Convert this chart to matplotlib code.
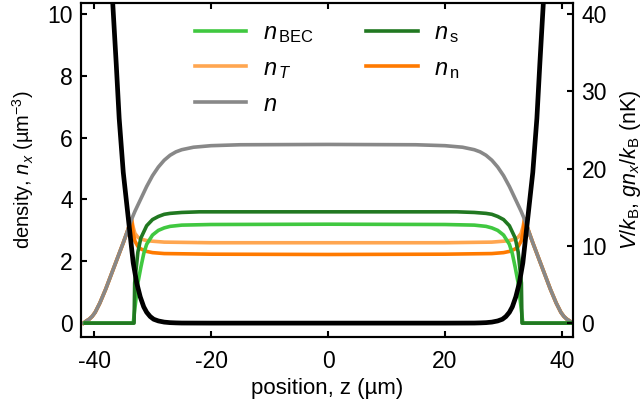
import matplotlib
matplotlib.use("Agg")
import matplotlib.pyplot as plt

plt.rcParams['font.family'] = ['Liberation Sans', 'DejaVu Sans']
plt.rcParams['mathtext.fontset'] = 'custom'
plt.rcParams['mathtext.rm'] = 'Liberation Sans'
plt.rcParams['mathtext.it'] = 'Liberation Sans:italic'
plt.rcParams['mathtext.bf'] = 'Liberation Sans:bold'
plt.rcParams['axes.unicode_minus'] = False

# ---- data ----
# total density n (um^-3)
z_n = [-41.8, -41.3, -40.8, -40.3, -39.8, -39.0, -38.0, -37.0, -36.0, -35.0, -34.3, -33.6,
       -33.0, -32.0, -31.0, -30.0, -29.0, -28.0, -27.0, -26.0, -25.0, -23.0, -20.0, -15.0,
       0.0, 15.0, 20.0, 23.0, 25.0, 26.0, 27.0, 28.0, 29.0, 30.0, 31.0, 32.0, 33.0,
       33.6, 34.3, 35.0, 36.0, 37.0, 38.0, 39.0, 39.8, 40.3, 40.8, 41.3, 41.8]
n_tot = [0.0, 0.07, 0.13, 0.22, 0.35, 0.65, 1.1, 1.6, 2.1, 2.6, 2.97, 3.35,
         3.62, 4.02, 4.42, 4.77, 5.05, 5.27, 5.43, 5.54, 5.61, 5.69, 5.74, 5.77,
         5.78, 5.77, 5.74, 5.69, 5.61, 5.54, 5.43, 5.27, 5.05, 4.77, 4.42, 4.02, 3.62,
         3.35, 2.97, 2.6, 2.1, 1.6, 1.1, 0.65, 0.35, 0.22, 0.13, 0.07, 0.0]

# condensate density n_BEC
z_bec = [-41.5, -33.3, -33.0, -32.5, -32.0, -31.5, -31.0, -30.0, -29.0, -28.0, -27.0, -25.0,
         -20.0, 0.0, 20.0, 25.0, 27.0, 28.0, 29.0, 30.0, 31.0, 31.5, 32.0, 32.5, 33.0, 33.3, 41.5]
n_bec = [0.0, 0.0, 0.5, 1.3, 1.8, 2.25, 2.55, 2.85, 3.0, 3.08, 3.13, 3.17,
         3.19, 3.2, 3.19, 3.17, 3.13, 3.08, 3.0, 2.85, 2.55, 2.25, 1.8, 1.3, 0.5, 0.0, 0.0]

# superfluid density n_s
z_s = [-41.5, -33.15, -33.05, -32.5, -32.0, -31.0, -30.0, -29.0, -28.0, -27.0, -25.0, -22.0,
       0.0, 22.0, 25.0, 27.0, 28.0, 29.0, 30.0, 31.0, 32.0, 32.5, 33.05, 33.15, 41.5]
n_s = [0.0, 0.0, 1.3, 2.3, 2.75, 3.15, 3.35, 3.45, 3.52, 3.55, 3.58, 3.6,
       3.6, 3.6, 3.58, 3.55, 3.52, 3.45, 3.35, 3.15, 2.75, 2.3, 1.3, 0.0, 0.0]

# thermal density n_T and normal density n_n
z_T = [-41.8, -41.3, -40.8, -40.3, -39.8, -39.0, -38.0, -37.0, -36.0, -35.0, -34.3, -33.6,
       -33.3, -33.0, -32.5, -32.0, -31.0, -30.0, -28.0, -20.0, 0.0, 20.0, 28.0, 30.0,
       31.0, 32.0, 32.5, 33.0, 33.3, 33.6, 34.3, 35.0, 36.0, 37.0, 38.0, 39.0, 39.8,
       40.3, 40.8, 41.3, 41.8]
n_T = [0.0, 0.07, 0.13, 0.22, 0.35, 0.65, 1.1, 1.6, 2.1, 2.6, 2.97, 3.38,
       3.1, 2.9, 2.78, 2.72, 2.67, 2.65, 2.62, 2.6, 2.6, 2.6, 2.62, 2.65,
       2.67, 2.72, 2.78, 2.9, 3.1, 3.38, 2.97, 2.6, 2.1, 1.6, 1.1, 0.65, 0.35,
       0.22, 0.13, 0.07, 0.0]
n_n = [0.0, 0.07, 0.13, 0.22, 0.35, 0.65, 1.1, 1.6, 2.1, 2.6, 2.97, 3.38,
       2.9, 2.65, 2.48, 2.4, 2.32, 2.28, 2.25, 2.23, 2.22, 2.23, 2.25, 2.28,
       2.32, 2.4, 2.48, 2.65, 2.9, 3.38, 2.97, 2.6, 2.1, 1.6, 1.1, 0.65, 0.35,
       0.22, 0.13, 0.07, 0.0]

# trap potential V/k_B (nK)
z_V = [-38.0, -37.5, -36.8, -36.2, -35.7, -35.0, -34.1, -33.3, -32.7, -32.1, -31.5, -31.0,
       -30.4, -29.8, -29.0, -28.0, -27.0, -26.0, -25.0, -20.0, 0.0, 20.0, 25.0, 26.0, 27.0,
       28.0, 29.0, 29.8, 30.4, 31.0, 31.5, 32.1, 32.7, 33.3, 34.1, 35.0, 35.7, 36.2, 36.8,
       37.5, 38.0]
V = [80.0, 58.0, 41.4, 33.5, 26.5, 19.5, 13.3, 7.8, 5.2, 3.4, 2.1, 1.4,
     0.85, 0.5, 0.28, 0.13, 0.06, 0.03, 0.01, 0.0, 0.0, 0.0, 0.01, 0.03, 0.06,
     0.13, 0.28, 0.5, 0.85, 1.4, 2.1, 3.4, 5.2, 7.8, 13.3, 19.5, 26.5, 33.5, 41.4,
     58.0, 80.0]

xticks = [-40, -20, 0, 20, 40]
yticks_left = [0, 2, 4, 6, 8, 10]
yticks_right = [0, 10, 20, 30, 40]

c_bec = '#40c840'
c_s = '#217821'
c_T = '#ffa650'
c_n = '#ff7a00'
c_tot = '#888888'

fig = plt.figure(figsize=(6.44, 4.11), dpi=100)
ax = fig.add_axes([0.126, 0.180, 0.764, 0.813])
ax2 = ax.twinx()

lw = 2.6
lT, = ax.plot(z_T, n_T, color=c_T, lw=lw, label=r'$n_{\,T}$')
lN, = ax.plot(z_T, n_n, color=c_n, lw=lw, label=r'$n_{\,\mathrm{n}}$')
lTot, = ax.plot(z_n, n_tot, color=c_tot, lw=lw, label=r'$n$')
lB, = ax.plot(z_bec, n_bec, color=c_bec, lw=lw, label=r'$n_{\,\mathrm{BEC}}$')
lS, = ax.plot(z_s, n_s, color=c_s, lw=lw, label=r'$n_{\,\mathrm{s}}$')
ax2.plot(z_V, V, color='black', lw=3.4, solid_joinstyle='round')

ax.set_xlim(-42.2, 41.9)
ax.set_ylim(-0.45, 10.36)
ax2.set_ylim(-1.8, 41.44)
ax.set_xticks(xticks)
ax.set_yticks(yticks_left)
ax2.set_yticks(yticks_right)

for a in (ax, ax2):
    for s in a.spines.values():
        s.set_linewidth(1.5)
ax.tick_params(axis='both', direction='in', length=4.5, width=1.5, labelsize=16.5)
ax.tick_params(axis='x', top=True, pad=9)
ax.tick_params(axis='y', pad=6)
ax2.tick_params(axis='y', direction='in', length=4.5, width=1.5, labelsize=16.5, pad=6)

ax.set_xlabel(r'position, z (µm)', fontsize=16, labelpad=4)
ax.set_ylabel(r'density, $n_x$ (µm$^{-3}$)', fontsize=14.5, labelpad=8)
ax2.set_ylabel(r'$V/k_\mathrm{B}$, $gn_x/k_\mathrm{B}$ (nK)', fontsize=15.5, labelpad=8)

leg = ax2.legend(handles=[lB, lT, lTot, lS, lN], ncol=2, frameon=False, fontsize=17,
                 loc='upper center', bbox_to_anchor=(0.50, 1.0),
                 handlelength=2.2, handletextpad=0.7, columnspacing=2.2,
                 labelspacing=0.55, borderpad=0.3)

fig.savefig('out.png', dpi=100)
